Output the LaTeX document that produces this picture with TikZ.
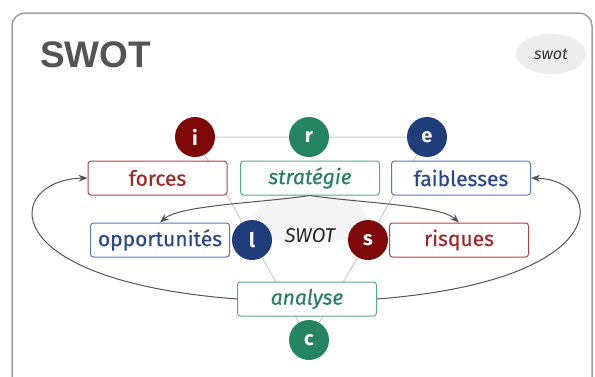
\documentclass[tikz,border=0pt]{standalone}
\usepackage{fontspec}
\setmainfont{Fira Sans}
\newfontfamily\boxfont{Fira Sans}[FakeBold=0.5]
\newfontfamily\titlefont{Liberation Sans}
\usetikzlibrary{arrows.meta,shapes.geometric}
\definecolor{cred}{HTML}{7E0808}
\definecolor{cgreen}{HTML}{258560}
\definecolor{cblue}{HTML}{1F3D7A}
\definecolor{bred}{HTML}{B24545}
\definecolor{bgreen}{HTML}{5AAA85}
\definecolor{bblue}{HTML}{5A78B5}
\definecolor{tred}{HTML}{A02828}
\definecolor{tgreen}{HTML}{2A8060}
\definecolor{tblue}{HTML}{29478A}
\definecolor{lgray}{HTML}{CCCCCC}
\definecolor{agray}{HTML}{555555}
\tikzset{
  x=1pt,y=-1pt,
  card/.style={draw=gray!75,line width=1.5pt,rounded corners=13pt,fill=white},
  lbox/.style={draw,line width=1pt,rounded corners=3pt,fill=white,minimum width=139pt,minimum height=34pt,inner sep=0pt,font=\boxfont\fontsize{21}{24}\selectfont},
  redbox/.style={lbox,draw=bred,text=tred},
  greenbox/.style={lbox,draw=bgreen,text=tgreen,font=\boxfont\fontsize{21}{24}\selectfont\itshape},
  bluebox/.style={lbox,draw=bblue,text=tblue},
  dot/.style={circle,minimum size=40pt,inner sep=0pt,text=white,font=\fontsize{20}{24}\selectfont\bfseries},
  hexline/.style={draw=lgray,line width=1pt},
  arr/.style={draw=agray,line width=1pt,-{Stealth[length=9pt,width=7pt]}}
}
\begin{document}
\begin{tikzpicture}
\useasboundingbox (0,0) rectangle (595,376);
\draw[card] (12,400) -- (12,13) -- (592,13) -- (592,400);
\node[anchor=base west,inner sep=0pt,font=\titlefont\fontsize{37}{40}\selectfont\bfseries,text=black!67] (title) at (40,67) {SWOT};
\node[ellipse,fill=black!7,minimum width=70pt,minimum height=40pt,inner sep=0pt,font=\fontsize{16}{18}\selectfont\itshape,text=black!80] (tag) at (551,54) {swot};
% background half hexagon
\fill[black!4] (240,240) -- (275,179) -- (345,179) -- (380,240) -- cycle;
% circle positions
\coordinate (pi) at (195,137);
\coordinate (pr) at (309,137);
\coordinate (pe) at (427,137);
\coordinate (pl) at (252,240);
\coordinate (ps) at (368,240);
\coordinate (pc) at (309,340);
\draw[hexline] (pi) -- (pr) -- (pe) -- (ps) -- (pc) -- (pl) -- cycle;
% boxes
\node[redbox] (forces) at (157.5,178) {forces};
\node[greenbox] (strat) at (310,178) {stratégie};
\node[bluebox] (faib) at (461,178) {faiblesses};
\node[bluebox] (opp) at (160,240) {opportunités};
\node[redbox] (risq) at (459,240) {risques};
\node[greenbox] (anal) at (307,299) {analyse};
% arrows
\draw[arr] (strat.south) .. controls (260,203) and (180,205) .. (opp.north);
\draw[arr] (strat.south) .. controls (360,203) and (440,205) .. (risq.north);
\draw[arr] (anal.west) .. controls (-10,280) and (5,180) .. (forces.west);
\draw[arr] (anal.east) .. controls (620,280) and (605,180) .. (faib.east);
% circles
\node[dot,fill=cred] (i) at (pi) {i};
\node[dot,fill=cgreen] (r) at (pr) {r};
\node[dot,fill=cblue] (e) at (pe) {e};
\node[dot,fill=cblue] (l) at (pl) {l};
\node[dot,fill=cred] (s) at (ps) {s};
\node[dot,fill=cgreen] (c) at (pc) {c};
\node[font=\fontsize{20}{22}\selectfont\itshape,text=black!85] (center) at (310,236) {SWOT};
\end{tikzpicture}
\end{document}
